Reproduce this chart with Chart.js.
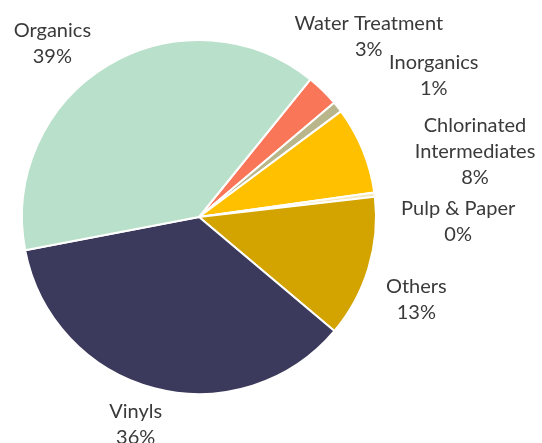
<!DOCTYPE html>
<html>
<head>
<meta charset="utf-8">
<script src="https://cdn.jsdelivr.net/npm/chart.js@4/dist/chart.umd.min.js"></script>
<style>
  html, body { margin: 0; padding: 0; background: #fff; }
  #wrap { width: 542px; height: 443px; }
</style>
</head>
<body>
<div id="wrap"><canvas id="pie"></canvas></div>
<script>
var categories = ['Water Treatment', 'Inorganics', 'Chlorinated Intermediates', 'Pulp & Paper', 'Others', 'Vinyls', 'Organics'];
var shares = [3, 1, 8, 0.4, 13, 36, 39];
var sliceColors = ['#fa7659', '#b9b68c', '#ffc000', '#f6e7b8', '#d3a300', '#3b3a5c', '#b9e0ca'];

// label text is split over lines, the last line is the share
var labelLines = [['Water Treatment'], ['Inorganics'], ['Chlorinated', 'Intermediates'], ['Pulp & Paper'], ['Others'], ['Vinyls'], ['Organics']];
// nudges from the default outside position, in px
var labelNudge = [[11, -18], [57, 0], [66, 21], [34, 33], [0, 17], [-6, -12], [-30, 21]];

var outsideLabels = {
  id: 'outsideLabels',
  afterDatasetsDraw: function (chart) {
    var ctx = chart.ctx;
    var meta = chart.getDatasetMeta(0);
    ctx.save();
    ctx.font = '20px Lato, "Open Sans", sans-serif';
    ctx.fillStyle = '#3a3a3a';
    ctx.textAlign = 'center';
    ctx.textBaseline = 'middle';
    var lineH = 26;
    meta.data.forEach(function (arc, i) {
      var mid = (arc.startAngle + arc.endAngle) / 2;
      var dist = arc.outerRadius + 50;
      var x = arc.x + Math.cos(mid) * dist + labelNudge[i][0];
      var y = arc.y + Math.sin(mid) * dist + labelNudge[i][1];
      var lines = labelLines[i].concat([Math.round(shares[i]) + '%']);
      var top = y - (lines.length - 1) * lineH / 2;
      lines.forEach(function (t, k) {
        ctx.fillText(t, x, top + k * lineH);
      });
    });
    ctx.restore();
  }
};

new Chart(document.getElementById('pie'), {
  type: 'pie',
  data: {
    labels: categories,
    datasets: [
      {
        data: shares,
        backgroundColor: sliceColors,
        borderColor: '#ffffff',
        borderWidth: 2
      }
    ]
  },
  options: {
    responsive: true,
    maintainAspectRatio: false,
    animation: false,
    rotation: 39,
    layout: {
      padding: { left: 20, right: 164, top: 39, bottom: 48 }
    },
    plugins: {
      legend: { display: false },
      tooltip: { enabled: false }
    }
  },
  plugins: [outsideLabels]
});
</script>
</body>
</html>
